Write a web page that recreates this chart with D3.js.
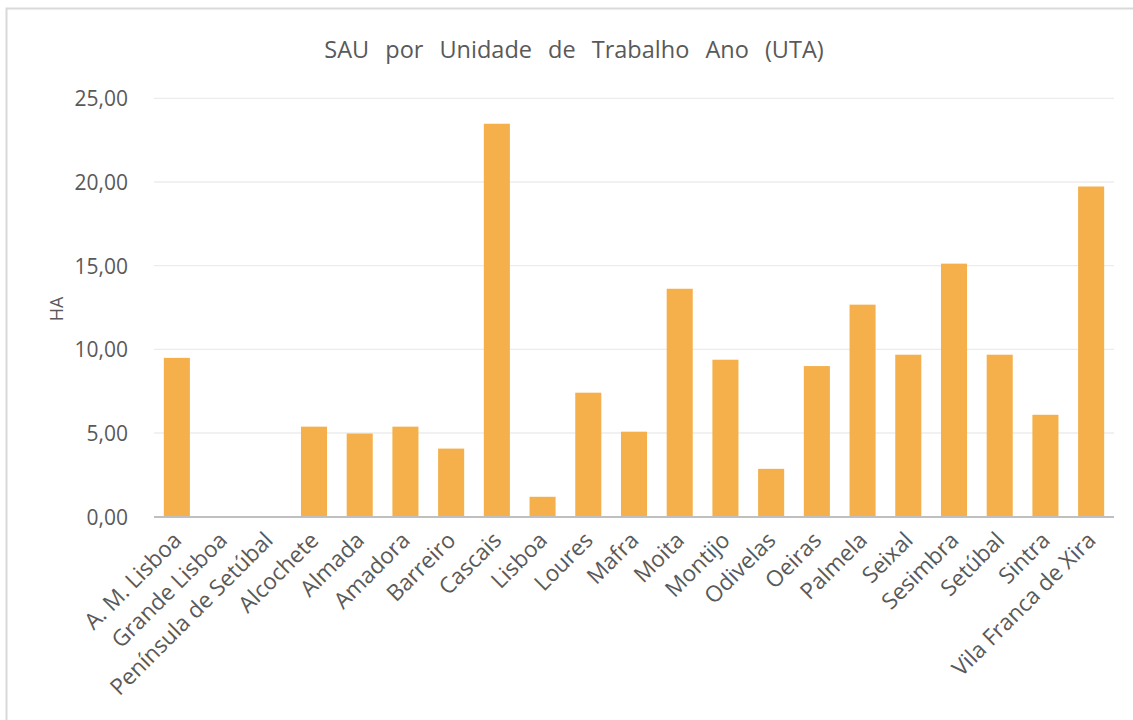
<!DOCTYPE html>
<html><head><meta charset="utf-8">
<script src="https://cdn.jsdelivr.net/npm/d3@7"></script>
<style>body{margin:0;background:#fff}svg{display:block}text{font-family:"Open Sans",sans-serif;fill:#595959}</style>
</head><body><svg id="c" width="1133" height="720"></svg>
<script>
const categories = ["A. M. Lisboa","Grande Lisboa","Península de Setúbal","Alcochete","Almada","Amadora","Barreiro","Cascais","Lisboa","Loures","Mafra","Moita","Montijo","Odivelas","Oeiras","Palmela","Seixal","Sesimbra","Setúbal","Sintra","Vila Franca de Xira"];
const values = [9.49,0,0,5.38,4.97,5.38,4.07,23.48,1.19,7.41,5.08,13.62,9.38,2.86,9.0,12.67,9.68,15.12,9.68,6.09,19.73];
const yTicks = [0,5,10,15,20,25];
const title = "SAU por Unidade de Trabalho Ano (UTA)";
const yLabel = "HA";

const svg = d3.select("#c");
const fmt = v => d3.format(".2f")(v).replace(".", ",");
// chart border
svg.append("path").attr("d","M6.5,720 V8.5 H1133").attr("fill","none").attr("stroke","#d9d9d9").attr("stroke-width",2);

const x = d3.scaleBand().domain(categories).range([154,1114]).paddingInner(0.43).paddingOuter(0.215);
const y = d3.scaleLinear().domain([0,25]).range([516.7,98.3]);

svg.append("g").selectAll("line").data(yTicks.slice(1)).join("line")
  .attr("x1",154).attr("x2",1114).attr("y1",d=>y(d)).attr("y2",d=>y(d))
  .attr("stroke","#ececec").attr("stroke-width",1.3);

svg.append("g").selectAll("rect").data(values).join("rect")
  .attr("x",(d,i)=>x(categories[i])).attr("width",x.bandwidth())
  .attr("y",d=>y(d)).attr("height",d=>y(0)-y(d)).attr("fill","#f5b04b");

const yAxis = svg.append("g").attr("transform","translate(128,0)")
  .call(d3.axisLeft(y).tickValues(yTicks).tickFormat(fmt).tickSize(0).tickPadding(0));
yAxis.select(".domain").remove();
yAxis.selectAll("text").attr("font-size",21).style("font-family","'Open Sans',sans-serif").attr("fill","#595959").attr("dy","0.35em");

svg.append("line").attr("x1",154).attr("x2",1114).attr("y1",y(0)+0.3).attr("y2",y(0)+0.3).attr("stroke","#bfbfbf").attr("stroke-width",2.2);

const xAxis = svg.append("g").attr("transform",`translate(0,${y(0)})`)
  .call(d3.axisBottom(x).tickSize(0).tickPadding(0));
xAxis.select(".domain").remove();
xAxis.selectAll("text").attr("font-size",22.5).style("font-family","'Open Sans',sans-serif").attr("fill","#5f5f5f")
  .attr("text-anchor","end").attr("dy",0).attr("y",0)
  .attr("transform","translate(6,25) rotate(-45)");

svg.append("text").attr("x",574).attr("y",58).attr("text-anchor","middle").attr("font-size",23.5)
  .style("word-spacing","10px").text(title);

svg.append("text").attr("transform","translate(63,309) rotate(-90)").attr("text-anchor","middle")
  .attr("font-size",18).text(yLabel);
</script></body></html>
